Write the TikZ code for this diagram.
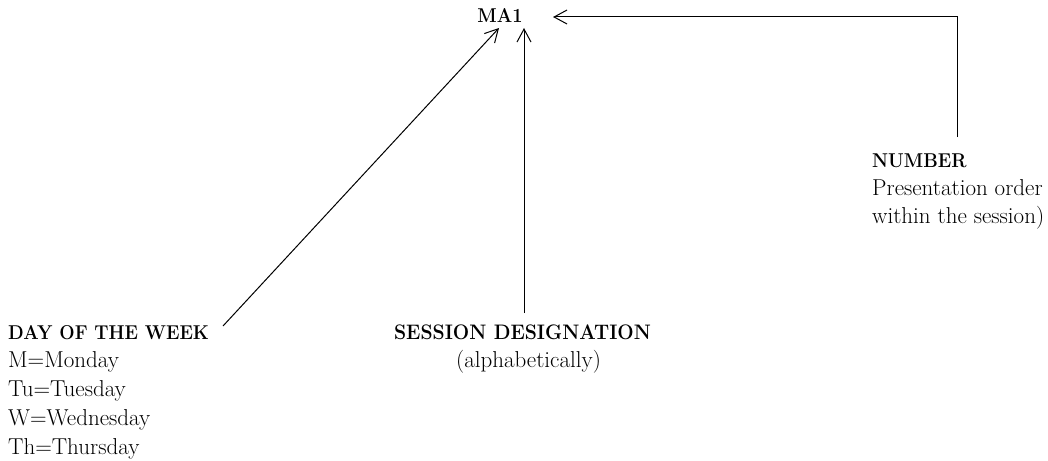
\documentclass[tikz,border=0pt]{standalone}
\usepackage{fontspec}
\usepackage{graphicx}
\usetikzlibrary{arrows.meta}
\newcommand{\narrowbf}[2][0.91]{\scalebox{#1}[1]{#2}}
\begin{document}
\begin{tikzpicture}[x=1pt,y=-1pt,
  txt/.style={inner sep=0pt, font=\fontsize{23}{28.75}\selectfont},
  bld/.style={inner sep=0pt, font=\fontsize{20}{28.75}\selectfont\bfseries},
  conn/.style={line width=1pt, -{Straight Barb[length=13pt,width=14pt]}}]
\useasboundingbox (0,0) rectangle (1048,460);
% target label
\node[bld, anchor=base] (ma1) at (500,23) {\narrowbf{MA1}};
% day of the week block
\node[bld, anchor=base west] (day) at (8,339) {\narrowbf{DAY OF THE WEEK}};
\node[txt, anchor=base west] (mon) at (8,367.75) {M=Monday};
\node[txt, anchor=base west] (tue) at (8,396.5) {Tu=Tuesday};
\node[txt, anchor=base west] (wed) at (8,425.25) {W=Wednesday};
\node[txt, anchor=base west] (thu) at (8,454) {Th=Thursday};
% session block
\node[bld, anchor=base, font=\fontsize{21}{28.75}\selectfont\bfseries] (ses) at (522.5,339) {\narrowbf[0.925]{SESSION DESIGNATION}};
\node[txt, anchor=base] (alpha) at (528.5,367.75) {(alphabetically)};
% number block
\node[bld, anchor=base west] (num) at (872,167) {\narrowbf{NUMBER}};
\node[txt, anchor=base west] (pres) at (872,195) {Presentation order};
\node[txt, anchor=base west] (within) at (872,223) {within the session)};
% connector ends
\coordinate (dayend) at (223,326);
\coordinate (daytip) at (499,28);
\coordinate (sesend) at (524,313);
\coordinate (sestip) at (524,28);
\coordinate (numend) at (957,137);
\coordinate (numcorner) at (957,17);
\coordinate (numtip) at (553,17);
\draw[conn] (dayend) -- (daytip);
\draw[conn] (sesend) -- (sestip);
\draw[conn] (numend) -- (numcorner) -- (numtip);
\end{tikzpicture}
\end{document}
